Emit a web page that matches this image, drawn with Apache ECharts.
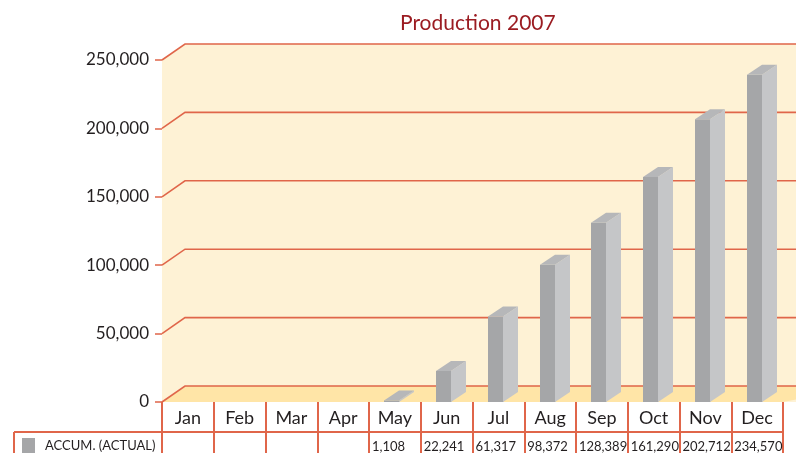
<!DOCTYPE html>
<html>
<head>
<meta charset="utf-8">
<script src="https://cdn.jsdelivr.net/npm/echarts@6/dist/echarts.min.js"></script>
<style>
html,body{margin:0;padding:0;background:#fff;}
#main{width:796px;height:453px;}
</style>
</head>
<body>
<div id="main"></div>
<script>
// ---- data ----
const months = ['Jan','Feb','Mar','Apr','May','Jun','Jul','Aug','Sep','Oct','Nov','Dec'];
const accumActual = [null, null, null, null, 1108, 22241, 61317, 98372, 128389, 161290, 202712, 234570];
const seriesName = 'ACCUM. (ACTUAL)';
const yTicks = [0, 50000, 100000, 150000, 200000, 250000];

// ---- style ----
const FONT = 'Lato, "Open Sans", sans-serif';
const RED = '#E0664A';
const DX = 23, DY = -16;          // wall depth
const BDX = 15, BDY = -10;        // bar depth
const GRID = {left: 162, top: 60, width: 621, height: 342};

function fmt(v){ return String(v).replace(/\B(?=(\d{3})+(?!\d))/g, ','); }

const chart = echarts.init(document.getElementById('main'), null, {renderer: 'canvas'});

const barData = [];
accumActual.forEach((v, i) => { if (v !== null) barData.push([i, v]); });
const tableData = accumActual.map((v, i) => [i, v === null ? '' : fmt(v)]);

const option = {
  animation: false,
  backgroundColor: '#ffffff',
  title: {
    text: 'Production 2007',
    left: 395, top: 8,
    textStyle: {fontFamily: FONT, fontSize: 21, fontWeight: 'normal', color: '#9B1C22'}
  },
  legend: {
    left: 22, top: 438, padding: 0,
    itemWidth: 13, itemHeight: 15,
    data: [{name: seriesName, icon: 'rect'}],
    textStyle: {fontFamily: FONT, fontSize: 13, color: '#231F20', padding: [0,0,0,5]},
    selectedMode: false
  },
  grid: {left: GRID.left, top: GRID.top, width: GRID.width, height: GRID.height},
  xAxis: {
    type: 'category',
    data: months,
    boundaryGap: true,
    axisLine: {show: false},
    axisTick: {show: true, length: 52, lineStyle: {color: RED, width: 2}},
    axisLabel: {fontFamily: FONT, fontSize: 18, color: '#231F20', margin: 7},
    splitLine: {show: false}
  },
  yAxis: {
    type: 'value',
    min: 0, max: 250000, interval: 50000,
    axisLine: {show: false},
    axisTick: {show: true, length: 7, lineStyle: {color: RED, width: 1.5}},
    axisLabel: {fontFamily: FONT, fontSize: 17, color: '#231F20', margin: 13, formatter: fmt, padding: [0,0,4,0]},
    splitLine: {show: false}
  },
  graphic: [
    {type: 'line', shape: {x1: 14, y1: 432, x2: 783, y2: 432}, style: {stroke: RED, lineWidth: 2}, z: 10},
    {type: 'line', shape: {x1: 14, y1: 432, x2: 14, y2: 453}, style: {stroke: RED, lineWidth: 2}, z: 10}
  ],
  series: [
    {
      name: 'wall', type: 'custom', silent: true, clip: false, z: 0,
      data: [0],
      renderItem: function (params, api) {
        const cs = params.coordSys;
        const W = api.getWidth() + 5;
        const x = cs.x, y = cs.y, h = cs.height, w = cs.width;
        return {type: 'group', children: [
          {type: 'polygon', shape: {points: [[x, y], [x + DX, y + DY], [W, y + DY], [W, y + h], [x, y + h]]},
           style: {fill: '#FEF2D5'}},
          {type: 'polygon', shape: {points: [[x, y + h], [x + DX, y + h + DY], [W, y + h + DY], [W, y + h + DY - (W - x - w) * DY / DX + 0], [x + w, y + h]]},
           style: {fill: '#FFE5A7'}}
        ]};
      }
    },
    {
      name: 'gridlines', type: 'custom', silent: true, clip: false, z: 1,
      data: yTicks.map(v => [0, v]),
      renderItem: function (params, api) {
        const cs = params.coordSys;
        const W = api.getWidth() + 5;
        const yy = api.coord([0, api.value(1)])[1];
        return {type: 'polyline', shape: {points: [[cs.x, yy], [cs.x + DX, yy + DY], [W, yy + DY]]},
          style: {stroke: RED, lineWidth: 1.6, fill: null}};
      }
    },
    {
      name: seriesName, type: 'custom', clip: false, z: 3,
      itemStyle: {color: '#A5A6A8'},
      data: barData,
      renderItem: function (params, api) {
        const c = api.coord([api.value(0), api.value(1)]);
        const b = api.coord([api.value(0), 0]);
        const h = (b[1] - c[1]) * 1.02;
        const x0 = Math.round(c[0] - 10.5), bw = 15;
        const top = b[1] - h, base = b[1];
        return {type: 'group', children: [
          {type: 'polygon', shape: {points: [[x0, top], [x0 + bw + 0.5, top], [x0 + bw + 0.5, base], [x0, base]]}, style: {fill: '#A5A6A8'}},
          {type: 'polygon', shape: {points: [[x0 + bw, top], [x0 + bw + BDX, top + BDY], [x0 + bw + BDX, base + BDY], [x0 + bw, base]]},
           style: {fill: '#C5C6C8'}},
          {type: 'polygon', shape: {points: [[x0, top], [x0 + BDX, top + BDY], [x0 + bw + BDX, top + BDY], [x0 + bw, top]]},
           style: {fill: '#B6B7B9'}}
        ]};
      }
    },
    {
      name: 'table', type: 'custom', silent: true, clip: false, z: 4,
      data: tableData,
      renderItem: function (params, api) {
        const i = api.value(0);
        const c = api.coord([i, 0]);
        const cw = api.size([1, 0])[0];
        return {type: 'text', x: c[0] - cw / 2 + 3, y: 447,
          style: {text: tableData[params.dataIndex][1], fontFamily: FONT, fontSize: 13, fill: '#231F20',
                  textAlign: 'left', textVerticalAlign: 'middle'}};
      }
    }
  ]
};
chart.setOption(option);
</script>
</body>
</html>
